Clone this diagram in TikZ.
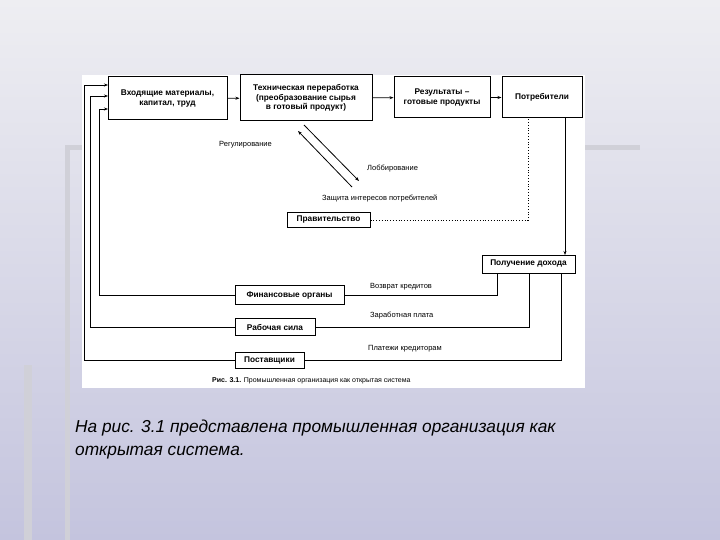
\documentclass[tikz,border=0pt]{standalone}
\usepackage{fontspec}
\setmainfont{Liberation Sans}
\usetikzlibrary{arrows.meta}
\begin{document}
\begin{tikzpicture}[x=1pt,y=-1pt,
  bx/.style={draw,line width=1pt,font=\fontsize{8.3}{9.5}\selectfont\bfseries,align=center,inner sep=1pt},
  lbl/.style={font=\fontsize{7.5}{8}\selectfont,inner sep=0pt,anchor=west},
  ln/.style={line width=0.8pt},
  ar/.style={line width=0.8pt,-{Stealth[length=4pt,width=3pt]}}]
\shade[top color={rgb,255:red,238;green,238;blue,242},bottom color={rgb,255:red,196;green,196;blue,222}] (0,0) rectangle (720,540);
\useasboundingbox (0,0) rectangle (720,540);
\definecolor{barc}{RGB}{208,208,216}
\fill[barc] (65,145) rectangle (640,150);
\fill[barc] (24,365) rectangle (32,540);
\fill[barc] (65,145) rectangle (70,540);
\fill[white] (82,75) rectangle (585,388);
% top boxes
\node[bx,minimum width=119pt,minimum height=43pt] (b1) at (167.5,98.5) {Входящие материалы,\\капитал, труд};
\node[bx,minimum width=132pt,minimum height=46pt] (b2) at (306,98) {Техническая переработка\\(преобразование сырья\\в готовый продукт)};
\node[bx,minimum width=96pt,minimum height=41pt] (b3) at (442,97.5) {Результаты --\\готовые продукты};
\node[bx,minimum width=80pt,minimum height=41pt] (b4) at (542,97.5) {Потребители};
\draw[ar] (b1) -- (b2);
\draw[ar] (b2) -- (b3);
\draw[ar] (b3) -- (b4);
% government
\node[bx,minimum width=83pt,minimum height=15pt] (gov) at (328.5,220) {Правительство};
\coordinate (d1) at (304,125); \coordinate (d2) at (359,181);
\coordinate (d3) at (352,187); \coordinate (d4) at (298,131);
\draw[ar] (d1) -- (d2);
\draw[ar] (d3) -- (d4);
\node[lbl] (l1) at (219,145) {Регулирование};
\node[lbl] (l2) at (367,169) {Лоббирование};
\node[lbl] (l3) at (322,198) {Защита интересов потребителей};
\draw[dotted,line width=0.8pt] (gov.east) -| (528,118);
% income
\node[bx,minimum width=93pt,minimum height=18pt] (inc) at (528.5,264) {Получение дохода};
\draw[ar] (565,118) -- (565,255);
\node[bx,minimum width=109pt,minimum height=19pt] (fin) at (289.5,295) {Финансовые органы};
\node[bx,minimum width=80pt,minimum height=17pt] (lab) at (275,327) {Рабочая сила};
\node[bx,minimum width=69pt,minimum height=16pt] (sup) at (269.5,360) {Поставщики};
\draw[ln] (fin.east) -| (497,273);
\draw[ln] (lab.east) -| (529,273);
\draw[ln] (sup.east) -| (561,273);
\node[lbl] (r1) at (370,287) {Возврат кредитов};
\node[lbl] (r2) at (370,316) {Заработная плата};
\node[lbl] (r3) at (368,349) {Платежи кредиторам};
\draw[ar] (fin.west) -| (99,109) -- (108,109);
\draw[ar] (lab.west) -| (90,96) -- (108,96);
\draw[ar] (sup.west) -| (84,85) -- (108,85);
\node[font=\fontsize{7}{7}\selectfont,anchor=west,inner sep=0pt] (cap) at (212,381) {\textbf{Рис. 3.1.} Промышленная организация как открытая система};
\node[font=\fontsize{17.3}{23}\selectfont\itshape,align=left,anchor=north west,inner sep=0pt] (txt) at (75,420) {На рис. 3.1 представлена промышленная организация как\\открытая система.};
\end{tikzpicture}
\end{document}
